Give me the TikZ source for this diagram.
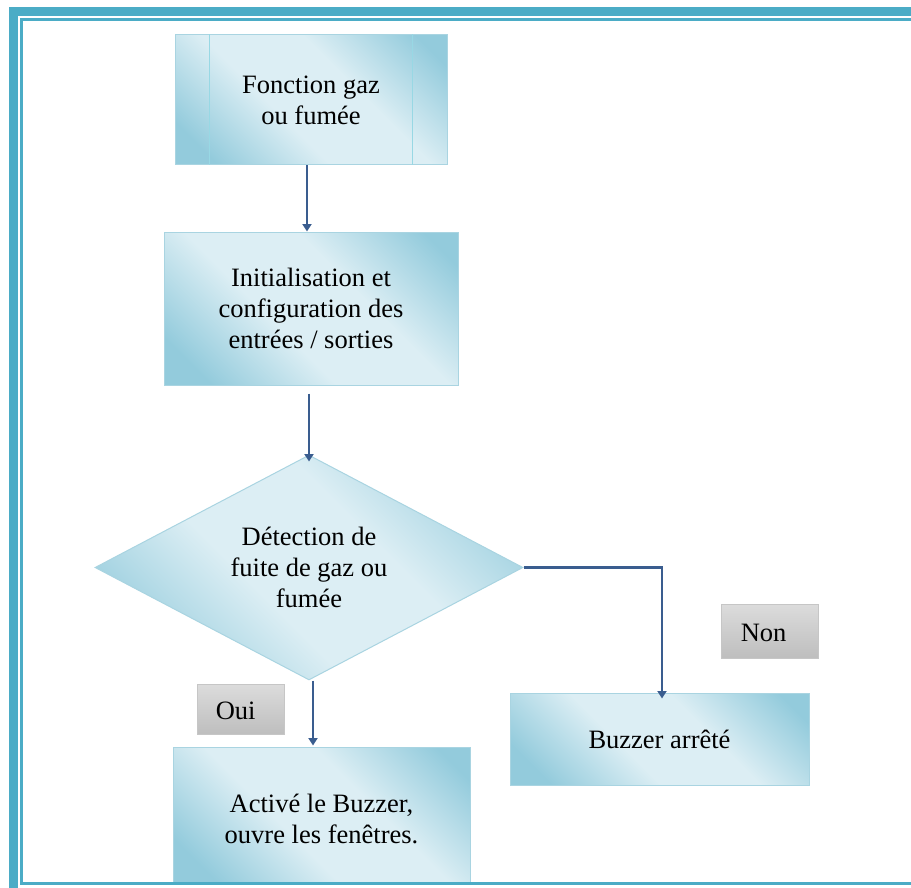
\documentclass[tikz,border=0pt]{standalone}
\usepackage{fontspec}
\setmainfont{Liberation Serif}
\usetikzlibrary{shapes.geometric,arrows.meta,calc}

\definecolor{framecol}{HTML}{4BACC6}
\definecolor{bdark}{HTML}{93CBDC}
\definecolor{blight}{HTML}{DCEEF4}
\definecolor{bedge}{HTML}{A9D4E1}
\definecolor{arrowcol}{HTML}{3A5D8F}
\definecolor{gtop}{HTML}{DCDCDC}
\definecolor{gbot}{HTML}{BEBEBE}

% diagonal band: dark corners, light middle
\pgfdeclarehorizontalshading{bandshade}{100bp}{%
  color(0bp)=(bdark); color(22bp)=(bdark); color(42bp)=(blight);
  color(60bp)=(blight); color(80bp)=(bdark); color(100bp)=(bdark)}

\tikzset{
  procbox/.style={rectangle, draw=bedge, line width=1pt, shading=bandshade,
    shading angle=45, inner sep=0pt, align=center,
    font=\fontsize{26.5}{31}\selectfont},
  decbox/.style={diamond, draw=bedge, line width=1pt, shading=bandshade,
    shading angle=45, inner sep=0pt, align=center, aspect=1.9,
    font=\fontsize{26.5}{31}\selectfont},
  tagbox/.style={rectangle, draw=gray!45, line width=0.8pt, top color=gtop,
    bottom color=gbot, inner sep=0pt},
  tagtext/.style={anchor=west, inner sep=0pt, font=\fontsize{26.5}{31}\selectfont},
  flow/.style={draw=arrowcol, line width=2.8pt,
    -{Triangle[width=9pt,length=7.5pt]}},
}

\begin{document}
\begin{tikzpicture}[x=1pt,y=-1pt]
\useasboundingbox (0,0) rectangle (911,888);
\clip (0,0) rectangle (911,888);
\fill[white] (0,0) rectangle (911,888);

% process steps
\node[procbox, minimum width=272pt, minimum height=130pt] (fonc) at (311,100)
  {Fonction gaz\\ou fumée};
\draw[bedge!90!cyan, line width=1.2pt]
  ([xshift=35pt]fonc.north west) -- ([xshift=35pt]fonc.south west)
  ([xshift=-35pt]fonc.north east) -- ([xshift=-35pt]fonc.south east);

\node[procbox, minimum width=294pt, minimum height=153pt] (init) at (311,308.5)
  {Initialisation et\\configuration des\\entrées / sorties};

\node[decbox, minimum width=428pt, minimum height=225pt] (dec) at (309,567.5)
  {Détection de\\fuite de gaz ou\\fumée};

\node[procbox, minimum width=297pt, minimum height=137pt] (act) at (321.5,815.5)
  {\\[-6pt]Activé le Buzzer,\\ouvre les fenêtres.};

\node[procbox, minimum width=299pt, minimum height=92pt] (buz) at (659.5,739)
  {Buzzer arrêté};

% branch tags
\node[tagbox, minimum width=87pt, minimum height=50pt] (oui) at (240.5,709) {};
\node[tagtext] (ouit) at ([xshift=19pt,yshift=-1.5pt]oui.west) {Oui};
\node[tagbox, minimum width=97pt, minimum height=54pt] (non) at (769.5,631) {};
\node[tagtext] (nont) at ([xshift=20pt,yshift=-2pt]non.west) {Non};

% connectors
\draw[flow] ([xshift=-4pt]fonc.south) -- ([xshift=-4pt]fonc.south |- init.north);
\draw[flow] ([yshift=-8pt]init.south -| dec.north) -- ([yshift=-7pt]dec.north);
\draw[flow] ([xshift=4pt]dec.south) -- ([xshift=4pt,yshift=1pt]dec.south |- act.north);
\draw[flow] (dec.east) -| ([xshift=2.5pt,yshift=-6pt]buz.north);

% page border
\draw[framecol, line width=8.5pt] (13.25,11.5) rectangle (1000,1000);
\draw[framecol, line width=3pt] (21.25,19.5) rectangle (1000,883.5);
\end{tikzpicture}
\end{document}
